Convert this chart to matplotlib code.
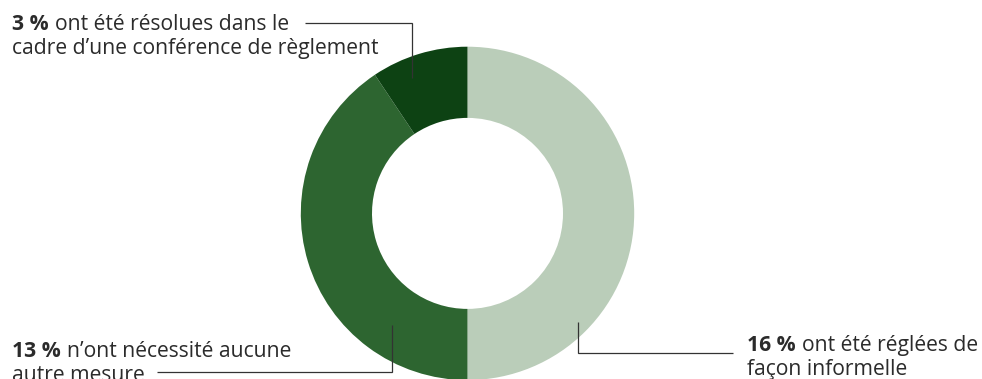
import matplotlib.pyplot as plt
from matplotlib.transforms import IdentityTransform

plt.rcParams['font.family'] = ['Open Sans', 'DejaVu Sans']

# values shown on the chart (percent of cases)
shares = [16, 13, 3]
colors = ['#bacdb9', '#2d6530', '#0d4213']
bold_parts = ['16 %', '13 %', '3 %']
first_lines = ['ont été réglées de', 'n\u2019ont nécessité aucune', 'ont été résolues dans le']
second_lines = ['façon informelle', 'autre mesure', 'cadre d\u2019une conférence de règlement']

W, H = 982, 379
fig = plt.figure(figsize=(W / 100, H / 100), dpi=100)
ax = fig.add_axes([0, 0, 1, 1])

# work in pixel coords, y measured from the top
def py(y):
    return H - y

ax.pie(shares, colors=colors, startangle=90, counterclock=False,
       radius=166.7, center=(467.5, py(213.4)),
       wedgeprops=dict(width=166.7 - 95.5, linewidth=0))
ax.set_xlim(0, W)
ax.set_ylim(0, H)
ax.set_aspect('equal')
ax.axis('off')

txt_color = '#2b2b2b'
line_color = '#333333'
fs = 15.2

# leader lines (pixel positions, y from top)
leaders = [
    [(578, 322), (578, 353), (733, 353)],
    [(392, 325), (392, 372), (157, 372)],
    [(412, 78), (412, 23), (305, 23)],
]
for pts in leaders:
    ax.plot([p[0] for p in pts], [py(p[1]) for p in pts], color=line_color, lw=0.9,
            solid_capstyle='butt', solid_joinstyle='miter')

# label anchors: x, baseline of first line (from top)
anchors = [(747, 351), (12, 357), (12, 30)]
renderer = fig.canvas.get_renderer()
for i in range(3):
    x, y = anchors[i]
    t = ax.text(x, py(y), bold_parts[i], fontsize=fs, fontweight='bold',
                color=txt_color, va='baseline', ha='left')
    bb = t.get_window_extent(renderer)
    base_disp = ax.transData.transform((x, py(y)))[1]
    ax.text(bb.x1 + 6, base_disp, first_lines[i], fontsize=fs, color=txt_color,
            va='baseline', ha='left', transform=IdentityTransform())
    ax.text(x, py(y + 24), second_lines[i], fontsize=fs, color=txt_color,
            va='baseline', ha='left')

fig.savefig('out.png', dpi=100)
